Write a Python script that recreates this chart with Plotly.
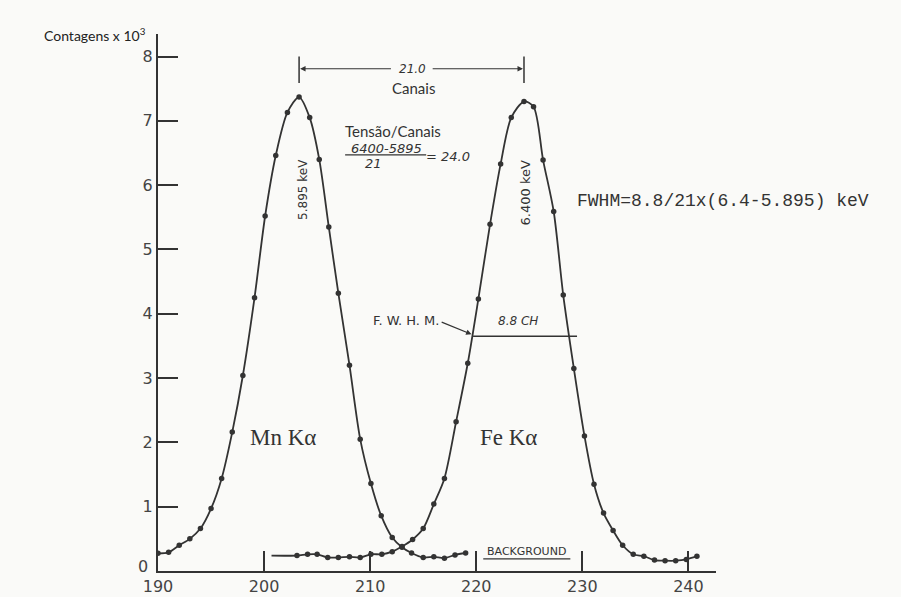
import plotly.graph_objects as go

# MnKa peak (channel, counts x 10^3)
mn_channel = [190.0, 191.0, 192.0, 193.0, 194.0, 195.0, 196.0, 197.0, 198.0, 199.1,
              200.1, 201.1, 202.2, 203.3, 204.3, 205.2, 206.1, 207.0, 208.05, 209.06,
              210.07, 211.04, 212.08, 213.0, 213.9, 215.0, 216.0, 217.0, 218.0, 219.0]
mn_counts = [0.275, 0.29, 0.40, 0.50, 0.66, 0.97, 1.44, 2.16, 3.04, 4.25,
             5.52, 6.46, 7.13, 7.37, 7.05, 6.40, 5.35, 4.32, 3.20, 2.05,
             1.36, 0.86, 0.52, 0.37, 0.28, 0.21, 0.22, 0.20, 0.25, 0.28]

# Background + FeKa peak (first entry is the start of the background line, no dot)
fe_channel = [200.7, 203.1, 204.1, 205.0, 206.0, 207.0, 208.05, 209.06, 210.07, 211.1,
              212.08, 213.0, 214.0, 215.0, 216.0, 217.0, 218.1, 219.2, 220.2, 221.3,
              222.3, 223.3, 224.5, 225.4, 226.3, 227.3, 228.2, 229.2, 230.2, 231.1,
              232.0, 232.9, 233.8, 234.8, 235.8, 236.8, 237.8, 238.8, 239.8, 240.8]
fe_counts = [0.24, 0.24, 0.26, 0.26, 0.21, 0.21, 0.22, 0.21, 0.26, 0.26,
             0.30, 0.38, 0.49, 0.66, 1.04, 1.44, 2.32, 3.23, 4.23, 5.39,
             6.33, 7.05, 7.30, 7.22, 6.39, 5.59, 4.29, 3.15, 2.10, 1.35,
             0.90, 0.63, 0.40, 0.26, 0.23, 0.17, 0.16, 0.16, 0.18, 0.23]

x_ticks = [190, 200, 210, 220, 230, 240]
y_ticks = [0, 1, 2, 3, 4, 5, 6, 7, 8]
y_tick_text = ["", "1", "2", "3", "4", "5", "6", "7", "8"]  # "0" is set apart at the corner

# FWHM bar of the FeKa peak
fwhm_start, fwhm_end = 219.7, 229.5

INK = "#333333"
LINE_FONT = "DejaVu Sans"
DOT = 5.5

mn_peak_x = mn_channel[mn_counts.index(max(mn_counts))]
fe_peak_x = fe_channel[fe_counts.index(max(fe_counts))]
fwhm_level = max(fe_counts) / 2

fig = go.Figure()
fig.add_trace(go.Scatter(
    x=mn_channel, y=mn_counts, mode="lines+markers",
    line=dict(color=INK, width=1.8, shape="spline", smoothing=0.8),
    marker=dict(color=INK, size=DOT, line=dict(width=0)), showlegend=False, hoverinfo="skip"))
fig.add_trace(go.Scatter(
    x=fe_channel, y=fe_counts, mode="lines",
    line=dict(color=INK, width=1.8, shape="spline", smoothing=0.8),
    showlegend=False, hoverinfo="skip"))
fig.add_trace(go.Scatter(
    x=fe_channel[1:], y=fe_counts[1:], mode="markers",
    marker=dict(color=INK, size=DOT, line=dict(width=0)), showlegend=False, hoverinfo="skip"))

shapes = []
# channel-separation bar between the two peaks
for px in (mn_peak_x, fe_peak_x):
    shapes.append(dict(type="line", xref="x", yref="y", x0=px, x1=px, y0=7.59, y1=8.0,
                       line=dict(color=INK, width=1.5)))
# FWHM line
shapes.append(dict(type="line", xref="x", yref="y", x0=fwhm_start, x1=fwhm_end,
                   y0=fwhm_level, y1=fwhm_level, line=dict(color=INK, width=1.5)))
# fraction bar
shapes.append(dict(type="line", xref="x", yref="y", x0=207.64, x1=215.28, y0=6.47, y1=6.47,
                   line=dict(color=INK, width=1.2)))
# underline of BACKGROUND
shapes.append(dict(type="line", xref="x", yref="y", x0=220.66, x1=228.87, y0=0.19, y1=0.19,
                   line=dict(color=INK, width=1.2)))

ann = []


def text(x, y, s, size, family=LINE_FONT, angle=0, italic=False, xanchor="center",
         color=INK):
    if italic:
        s = "<i>" + s + "</i>"
    ann.append(dict(x=x, y=y, xref="x", yref="y", text=s,
                    showarrow=False, textangle=angle, xanchor=xanchor, yanchor="middle",
                    font=dict(family=family, size=size, color=color)))


# arrows of the separation bar
for tail, tip in ((212.1, mn_peak_x + 0.1), (215.75, fe_peak_x - 0.1)):
    ann.append(dict(x=tip, y=7.81, ax=tail, ay=7.81, xref="x", yref="y", axref="x", ayref="y",
                    text="", showarrow=True, arrowhead=2, arrowsize=0.9, arrowwidth=1.2,
                    arrowcolor=INK))
text((mn_peak_x + fe_peak_x) / 2 + 0.1, 7.81, "21.0", 12, italic=True)
text(214.06, 7.51, "Canais", 15, family="Lato")
text(212.17, 6.84, "Tensão/Canais", 15, family="Lato")
text(211.5, 6.57, "6400-5895", 13, italic=True)
text(210.28, 6.33, "21", 13, italic=True)
text(217.3, 6.45, "= 24.0", 13, italic=True)
text(203.6, 5.93, "5.895 keV", 12, angle=-90)
text(224.65, 5.88, "6.400 keV", 13, angle=-90)
text(229.3, 5.76, "FWHM=8.8/21x(6.4-5.895) keV", 18, family="Liberation Mono", xanchor="left")
text(213.4, 3.90, "F. W. H. M.", 13)
ann.append(dict(x=219.55, y=fwhm_level + 0.03, ax=216.6, ay=3.88, xref="x", yref="y",
                axref="x", ayref="y", text="", showarrow=True, arrowhead=2, arrowsize=0.9,
                arrowwidth=1.2, arrowcolor=INK))
text(223.96, 3.89, "8.8 CH", 12, italic=True)
text(201.8, 2.08, "Mn Kα", 23, family="Liberation Serif")
text(223.0, 2.07, "Fe Kα", 23, family="Liberation Serif")
text(224.72, 0.31, "BACKGROUND", 11)
# origin label at the lower-left corner
ann.append(dict(x=-0.027, y=0.008, xref="paper", yref="paper", text="0", showarrow=False,
                xanchor="center", yanchor="middle",
                font=dict(family=LINE_FONT, size=16, color="#444444")))
ann.append(dict(x=-0.208, y=1.0, xref="paper", yref="paper", text="Contagens x 10<sup>3</sup>",
                showarrow=False, xanchor="left", yanchor="middle",
                font=dict(family="Lato", size=14, color="#222222")))

fig.update_layout(
    width=901, height=597,
    margin=dict(l=158, r=185, t=34, b=26),
    paper_bgcolor="#fafaf8", plot_bgcolor="#fafaf8",
    shapes=shapes, annotations=ann,
    xaxis=dict(range=[190, 242.6], tickvals=x_ticks, ticks="inside", ticklen=20,
               tickwidth=1.5, tickcolor=INK, showline=True, linecolor=INK, linewidth=2,
               showgrid=False, zeroline=False, automargin=False,
               tickfont=dict(family=LINE_FONT, size=16, color="#444444")),
    yaxis=dict(range=[0, 8.35], tickvals=y_ticks, ticktext=y_tick_text, ticks="inside",
               ticklen=20, tickwidth=1.5, tickcolor=INK, showline=True, linecolor=INK,
               linewidth=2, showgrid=False, zeroline=False, automargin=False,
               tickfont=dict(family=LINE_FONT, size=16, color="#444444")),
)

fig.write_html("out.html")
